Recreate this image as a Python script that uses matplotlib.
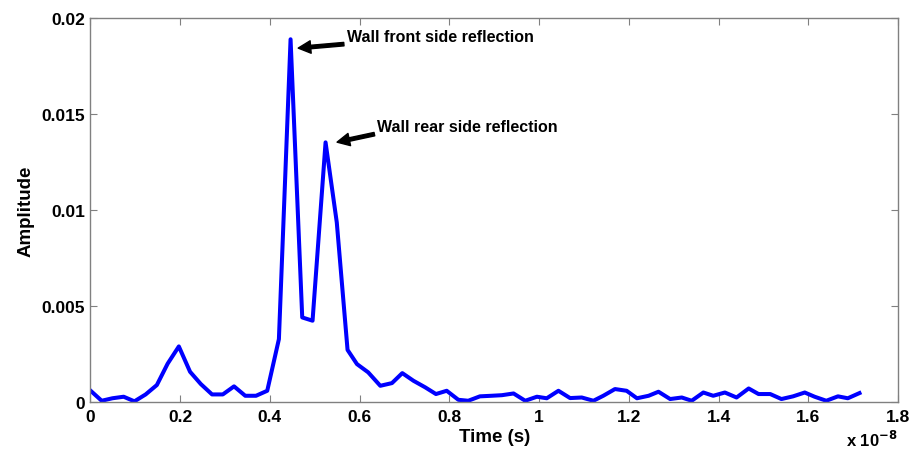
import numpy as np
import matplotlib
matplotlib.use("Agg")
import matplotlib.pyplot as plt
from matplotlib.ticker import FuncFormatter

# time samples (units of 1e-8 s) and amplitude
time_e8 = [0.000, 0.025, 0.049, 0.074, 0.098, 0.123, 0.148, 0.172, 0.197, 0.222,
           0.246, 0.271, 0.295, 0.320, 0.345, 0.369, 0.394, 0.420, 0.446, 0.472,
           0.495, 0.524, 0.549, 0.573, 0.594, 0.619, 0.646, 0.672, 0.695, 0.720,
           0.746, 0.770, 0.794, 0.820, 0.842, 0.868, 0.894, 0.917, 0.943, 0.969,
           0.995, 1.017, 1.043, 1.069, 1.095, 1.121, 1.143, 1.169, 1.195, 1.218,
           1.244, 1.266, 1.292, 1.318, 1.340, 1.366, 1.388, 1.414, 1.440, 1.467,
           1.489, 1.515, 1.540, 1.566, 1.592, 1.614, 1.640, 1.666, 1.688, 1.714]
amplitude = [0.00060, 0.00007, 0.00020, 0.00028, 0.00004, 0.00040, 0.00089, 0.00200, 0.00290, 0.00158,
             0.00094, 0.00040, 0.00040, 0.00082, 0.00033, 0.00033, 0.00059, 0.00328, 0.01890, 0.00441,
             0.00424, 0.01353, 0.00936, 0.00272, 0.00198, 0.00155, 0.00085, 0.00099, 0.00151, 0.00111,
             0.00077, 0.00042, 0.00059, 0.00012, 0.00007, 0.00030, 0.00033, 0.00036, 0.00045, 0.00007,
             0.00028, 0.00020, 0.00059, 0.00021, 0.00024, 0.00007, 0.00033, 0.00068, 0.00059, 0.00020,
             0.00033, 0.00054, 0.00016, 0.00024, 0.00007, 0.00050, 0.00033, 0.00050, 0.00024, 0.00071,
             0.00042, 0.00042, 0.00016, 0.00030, 0.00050, 0.00028, 0.00007, 0.00030, 0.00020, 0.00047]

x_ticks = [0, 0.2, 0.4, 0.6, 0.8, 1.0, 1.2, 1.4, 1.6, 1.8]
y_ticks = [0, 0.005, 0.01, 0.015, 0.02]

plt.rcParams['font.family'] = ['Liberation Sans', 'DejaVu Sans']
plt.rcParams['font.weight'] = 'bold'
plt.rcParams['mathtext.default'] = 'bf'

fig = plt.figure(figsize=(9.23, 4.56), dpi=100)
ax = fig.add_axes([0.098, 0.116, 0.875, 0.842])

ax.plot(time_e8, amplitude, color=(0, 0, 1), linewidth=2.9)

ax.set_xlim(0, 1.8)
ax.set_ylim(0, 0.02)
ax.set_xticks(x_ticks)
ax.set_yticks(y_ticks)
ax.xaxis.set_major_formatter(FuncFormatter(lambda v, p: '%g' % v))
ax.yaxis.set_major_formatter(FuncFormatter(lambda v, p: '%g' % v))
ax.tick_params(direction='in', top=True, right=True, length=5, width=0.8,
               color='#808080', labelsize=12.5, pad=4)
ax.tick_params(axis='x', pad=5)
for lab in ax.get_xticklabels() + ax.get_yticklabels():
    lab.set_fontweight('bold')
for s in ax.spines.values():
    s.set_color('#808080')
    s.set_linewidth(1.0)

ax.set_xlabel('Time (s)', fontsize=13.5, fontweight='bold', labelpad=3)
ax.set_ylabel('Amplitude', fontsize=13.5, fontweight='bold', labelpad=5)
ax.text(1.0, -0.07, r'x 10$^{-8}$', transform=ax.transAxes,
        ha='right', va='top', fontsize=12, fontweight='bold')

arrow = dict(facecolor='black', edgecolor='black', width=2.5, headwidth=9, headlength=9, shrink=0)
ax.annotate('Wall front side reflection', xy=(0.463, 0.01844), xytext=(0.571, 0.01905),
            fontsize=11.5, fontweight='bold', va='center', ha='left', arrowprops=arrow)
ax.annotate('Wall rear side reflection', xy=(0.5496, 0.01354), xytext=(0.639, 0.01438),
            fontsize=11.5, fontweight='bold', va='center', ha='left', arrowprops=arrow)

fig.savefig('out.png', dpi=100)
